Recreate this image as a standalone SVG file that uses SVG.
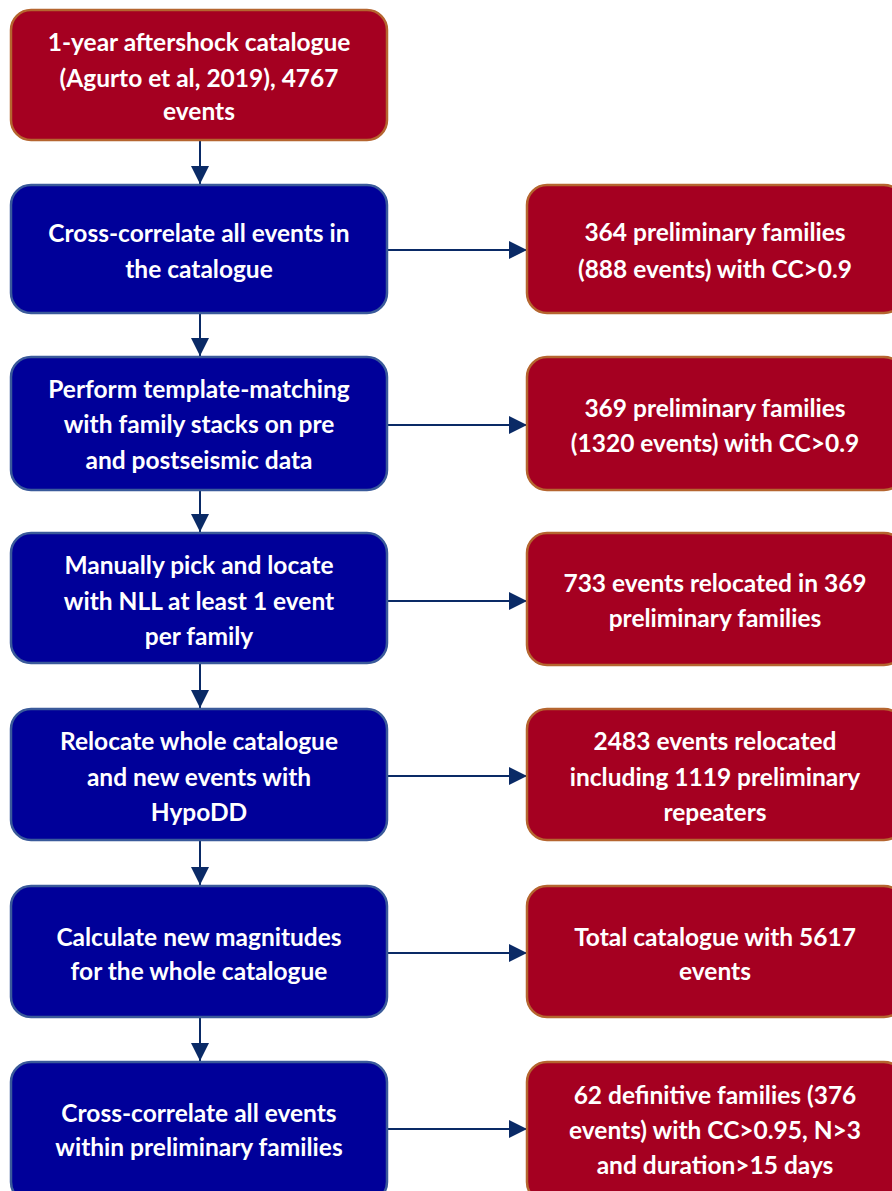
<svg xmlns="http://www.w3.org/2000/svg" width="892" height="1191" viewBox="0 0 892 1191">
<defs>
<marker id="ah" markerWidth="18" markerHeight="18" refX="18" refY="9" orient="auto" markerUnits="userSpaceOnUse" viewBox="0 0 18 18">
<path d="M0,0 L18,9 L0,18 z" fill="#0A2A66"/>
</marker>
<style>
.red{fill:#A50021;stroke:#B5652F;stroke-width:2.5}
.blue{fill:#000099;stroke:#3A5A9A;stroke-width:2.5}
.t{font-family:Lato,"Open Sans",sans-serif;font-weight:bold;font-size:24.5px;fill:#FFFFFF;text-anchor:middle}
.c{stroke:#0A2A66;stroke-width:2;fill:none}
</style>
</defs>
<rect width="892" height="1191" fill="#FFFFFF"/>
<g id="connectors">
<line class="c" x1="200" y1="141" x2="200" y2="184" marker-end="url(#ah)"/>
<line class="c" x1="200" y1="314" x2="200" y2="356" marker-end="url(#ah)"/>
<line class="c" x1="200" y1="491" x2="200" y2="532" marker-end="url(#ah)"/>
<line class="c" x1="200" y1="664" x2="200" y2="708" marker-end="url(#ah)"/>
<line class="c" x1="200" y1="841" x2="200" y2="885" marker-end="url(#ah)"/>
<line class="c" x1="200" y1="1018" x2="200" y2="1061" marker-end="url(#ah)"/>
<line class="c" x1="387" y1="250" x2="527" y2="250" marker-end="url(#ah)"/>
<line class="c" x1="387" y1="425" x2="527" y2="425" marker-end="url(#ah)"/>
<line class="c" x1="387" y1="601" x2="527" y2="601" marker-end="url(#ah)"/>
<line class="c" x1="387" y1="776" x2="527" y2="776" marker-end="url(#ah)"/>
<line class="c" x1="387" y1="953" x2="527" y2="953" marker-end="url(#ah)"/>
<line class="c" x1="387" y1="1129" x2="527" y2="1129" marker-end="url(#ah)"/>
</g>
<g id="n1">
<rect class="red" x="11" y="10" width="376" height="130" rx="20"/>
<text class="t" x="199" y="51">1-year aftershock catalogue</text>
<text class="t" x="199" y="87">(Agurto et al,  2019), 4767</text>
<text class="t" x="199" y="120">events</text>
</g>
<g id="n2">
<rect class="blue" x="11" y="185" width="376" height="128" rx="20"/>
<text class="t" x="199" y="242">Cross-correlate all events in</text>
<text class="t" x="199" y="278">the catalogue</text>
</g>
<g id="r1">
<rect class="red" x="527" y="185" width="377" height="128" rx="20"/>
<text class="t" x="715" y="241">364 preliminary families</text>
<text class="t" x="715" y="278">(888 events) with CC&gt;0.9</text>
</g>
<g id="n3">
<rect class="blue" x="11" y="357" width="376" height="133" rx="20"/>
<text class="t" x="199" y="398">Perform template-matching</text>
<text class="t" x="199" y="433">with family stacks on pre</text>
<text class="t" x="199" y="469">and postseismic data</text>
</g>
<g id="r2">
<rect class="red" x="527" y="357" width="377" height="133" rx="20"/>
<text class="t" x="715" y="417">369 preliminary families</text>
<text class="t" x="715" y="452">(1320 events) with CC&gt;0.9</text>
</g>
<g id="n4">
<rect class="blue" x="11" y="533" width="376" height="130" rx="20"/>
<text class="t" x="199" y="574">Manually pick and locate</text>
<text class="t" x="199" y="610">with NLL at least 1 event</text>
<text class="t" x="199" y="645">per family</text>
</g>
<g id="r3">
<rect class="red" x="527" y="533" width="377" height="132" rx="20"/>
<text class="t" x="715" y="592">733 events relocated in 369</text>
<text class="t" x="715" y="627">preliminary families</text>
</g>
<g id="n5">
<rect class="blue" x="11" y="709" width="376" height="131" rx="20"/>
<text class="t" x="199" y="750">Relocate whole catalogue</text>
<text class="t" x="199" y="786">and new events with</text>
<text class="t" x="199" y="821">HypoDD</text>
</g>
<g id="r4">
<rect class="red" x="527" y="709" width="377" height="131" rx="20"/>
<text class="t" x="715" y="750">2483 events relocated</text>
<text class="t" x="715" y="786">including 1119 preliminary</text>
<text class="t" x="715" y="821">repeaters</text>
</g>
<g id="n6">
<rect class="blue" x="11" y="886" width="376" height="131" rx="20"/>
<text class="t" x="199" y="946">Calculate new magnitudes</text>
<text class="t" x="199" y="980">for the whole catalogue</text>
</g>
<g id="r5">
<rect class="red" x="527" y="886" width="377" height="131" rx="20"/>
<text class="t" x="715" y="946">Total catalogue with 5617</text>
<text class="t" x="715" y="980">events</text>
</g>
<g id="n7">
<rect class="blue" x="11" y="1062" width="376" height="140" rx="20"/>
<text class="t" x="199" y="1122">Cross-correlate all events</text>
<text class="t" x="199" y="1156">within preliminary families</text>
</g>
<g id="r6">
<rect class="red" x="527" y="1062" width="377" height="140" rx="20"/>
<text class="t" x="715" y="1104">62 definitive families (376</text>
<text class="t" x="715" y="1139">events) with CC&gt;0.95, N&gt;3</text>
<text class="t" x="715" y="1174">and duration&gt;15 days</text>
</g>
</svg>
